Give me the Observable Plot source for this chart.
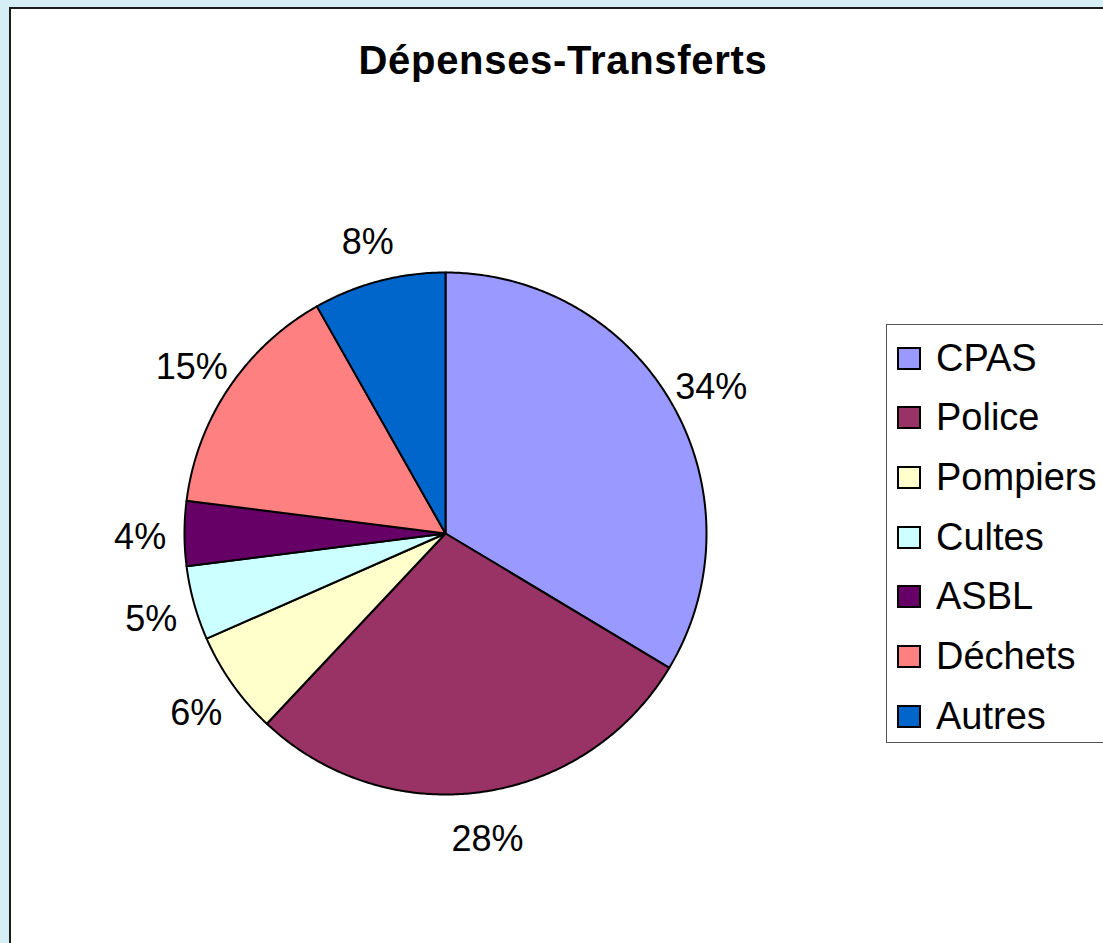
<!DOCTYPE html>
<html>
<head>
<meta charset="utf-8">
<script src="https://cdn.jsdelivr.net/npm/d3@7"></script>
<script src="https://cdn.jsdelivr.net/npm/@observablehq/plot@0.6"></script>
<style>
  html, body { margin: 0; padding: 0; background: #d6eef6; width: 1103px; height: 943px; overflow: hidden; font-family: "Liberation Sans", Arial, sans-serif; }
  #frame { position: absolute; left: 9px; top: 7px; width: 1200px; height: 1000px; border: 2px solid #1c1c1c; background: #fff; }
  #title { position: absolute; left: 0; width: 1126px; top: 38px; text-align: center; font-weight: bold; font-size: 40px; line-height: 44px; color: #000; letter-spacing: 0.7px; }
  #chart { position: absolute; left: 0; top: 0; }
  #legend { position: absolute; left: 886px; top: 324px; width: 300px; height: 417px; border: 1px solid #555; background: #fff; }
  .row { position: absolute; left: 10px; height: 40px; display: flex; align-items: center; font-size: 38px; color: #000; }
  .sw { width: 20px; height: 19px; border: 2px solid #000; margin-right: 15px; box-sizing: content-box; }
</style>
</head>
<body>
<div id="frame"></div>
<div id="title">Dépenses-Transferts</div>
<div id="chart"></div>
<div id="legend"></div>
<script>
const categories = ["CPAS", "Police", "Pompiers", "Cultes", "ASBL", "Déchets", "Autres"];
const values = [33.6, 28.4, 6.4, 4.6, 4.0, 14.8, 8.2];
const colors = ["#9999FF", "#993366", "#FFFFCC", "#CCFFFF", "#660066", "#FF8080", "#0066CC"];

const total = d3.sum(values);
const pie = d3.pie().sort(null).value(d => d.value);
const arcs = pie(categories.map((c, i) => ({cat: c, value: values[i]})));

// slice outlines (unit circle), angle measured clockwise from top
const pts = [];
for (const a of arcs) {
  const n = Math.max(2, Math.ceil((a.endAngle - a.startAngle) / (Math.PI / 360)));
  pts.push({cat: a.data.cat, x: 0, y: 0});
  for (let k = 0; k <= n; k++) {
    const t = a.startAngle + (a.endAngle - a.startAngle) * k / n;
    pts.push({cat: a.data.cat, x: Math.sin(t), y: Math.cos(t)});
  }
  pts.push({cat: a.data.cat, x: 0, y: 0});
}
const labels = arcs.map(a => {
  const m = (a.startAngle + a.endAngle) / 2;
  return {cat: a.data.cat, x: 1.17 * Math.sin(m), y: 1.17 * Math.cos(m),
          text: Math.round(a.data.value / total * 100) + "%"};
});

const cx = 445, cy = 533, R = 261;
const chart = Plot.plot({
  width: 1103,
  height: 943,
  margin: 0,
  style: {background: "transparent", fontFamily: "'Liberation Sans', Arial, sans-serif"},
  x: {domain: [-1, 1], range: [cx - R, cx + R], axis: null},
  y: {domain: [-1, 1], range: [cy + R, cy - R], axis: null},
  color: {domain: categories, range: colors},
  marks: [
    Plot.line(pts, {x: "x", y: "y", z: "cat", fill: "cat", stroke: "#000", strokeWidth: 2, strokeLinejoin: "round", curve: "linear-closed"}),
    Plot.text(labels, {x: "x", y: "y", text: "text", fontSize: 36, fill: "#000", dy: 4})
  ]
});
document.getElementById("chart").appendChild(chart);

const legend = document.getElementById("legend");
categories.forEach((c, i) => {
  const row = document.createElement("div");
  row.className = "row";
  row.style.top = (13 + i * 59.7) + "px";
  const sw = document.createElement("div");
  sw.className = "sw";
  sw.style.background = colors[i];
  row.appendChild(sw);
  const t = document.createElement("span");
  t.textContent = c;
  row.appendChild(t);
  legend.appendChild(row);
});
</script>
</body>
</html>
